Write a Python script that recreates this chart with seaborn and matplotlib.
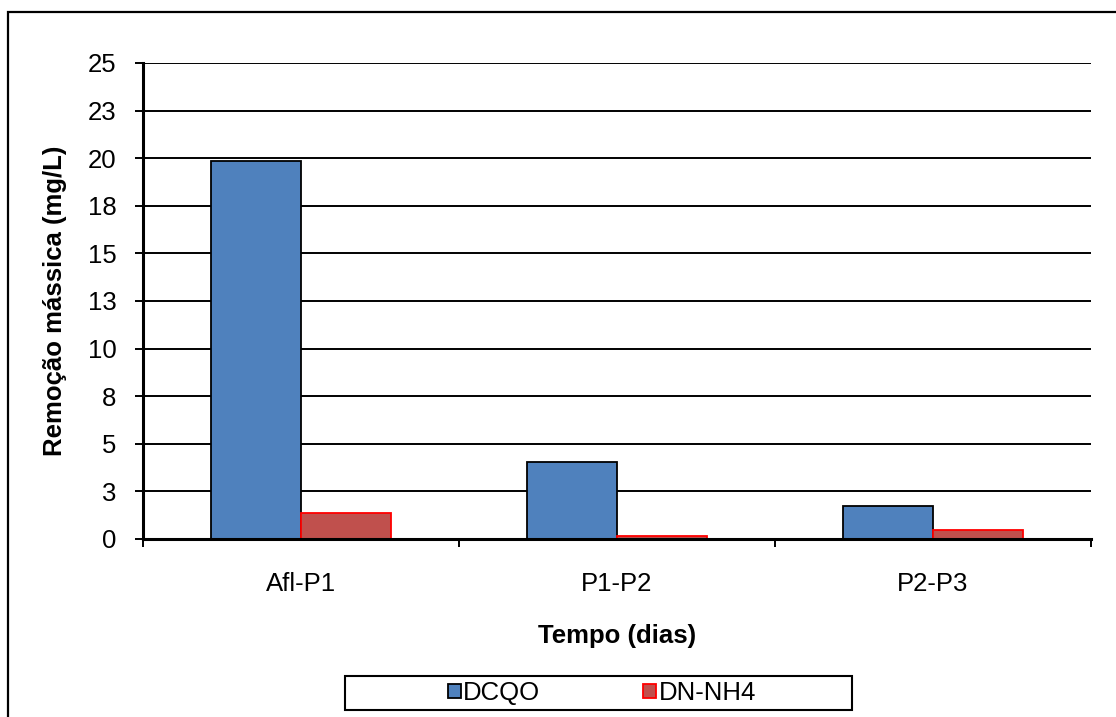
import matplotlib
matplotlib.use("Agg")
import matplotlib.pyplot as plt
import seaborn as sns
import pandas as pd
from matplotlib.patches import Rectangle, Patch
from matplotlib.ticker import FixedLocator

categories = ["Afl-P1", "P1-P2", "P2-P3"]
dcqo = [19.85, 4.06, 1.73]
dn_nh4 = [1.35, 0.14, 0.49]
series_names = ["DCQO", "DN-NH4"]
ytick_values = [0, 2.5, 5, 7.5, 10, 12.5, 15, 17.5, 20, 22.5, 25]
ytick_labels = ["0", "3", "5", "8", "10", "13", "15", "18", "20", "23", "25"]

df = pd.DataFrame({
    "cat": categories * 2,
    "serie": [series_names[0]] * 3 + [series_names[1]] * 3,
    "val": dcqo + dn_nh4,
})

sns.set_theme(style="white")
plt.rcParams["font.family"] = ["Liberation Sans", "DejaVu Sans"]
plt.rcParams["text.color"] = "black"

FS = 18.5

fig = plt.figure(figsize=(11.16, 7.17), dpi=100)
ax = fig.add_axes([143 / 1116, 1 - 539 / 717, (1091 - 143) / 1116, (539 - 63) / 717])

fill = {"DCQO": "#4F81BD", "DN-NH4": "#C0504D"}
edge = {"DCQO": "#000000", "DN-NH4": "#FF0000"}

sns.barplot(data=df, x="cat", y="val", hue="serie", hue_order=series_names,
            order=categories, palette=fill, width=0.57, gap=0, ax=ax,
            legend=False, saturation=1)

for cont, name in zip(ax.containers, series_names):
    for p in cont:
        p.set_edgecolor(edge[name])
        p.set_linewidth(1.3)
        p.set_zorder(3)

ax.set_xlim(-0.5, 2.5)
ax.set_ylim(0, 25)
ax.set_yticks(ytick_values)
ax.set_yticklabels(ytick_labels)
ax.yaxis.grid(True, color="black", linewidth=1.4)
ax.set_axisbelow(True)
for s in ["top", "right"]:
    ax.spines[s].set_visible(False)
for s in ["left", "bottom"]:
    ax.spines[s].set_color("black")
    ax.spines[s].set_linewidth(2.2)
    ax.spines[s].set_zorder(4)

ax.tick_params(axis="y", which="major", direction="out", length=6, width=1.4,
               color="black", left=True, labelsize=FS, pad=13, labelcolor="black")
ax.xaxis.set_minor_locator(FixedLocator([-0.5, 0.5, 1.5, 2.5]))
ax.tick_params(axis="x", which="major", length=0, labelsize=FS, pad=24, labelcolor="black")
ax.tick_params(axis="x", which="minor", direction="out", length=6, width=1.4,
               color="black", bottom=True)
ax.set_xticks(range(len(categories)))
ax.set_xticklabels(categories)

ax.set_xlabel("Tempo (dias)", fontsize=FS, fontweight="bold", labelpad=20, color="black")
ax.set_ylabel("Remoção mássica (mg/L)", fontsize=FS, fontweight="bold", labelpad=15, color="black")

handles = [Patch(facecolor=fill[n], edgecolor=edge[n], linewidth=1.3) for n in series_names]
fig.legend(handles, series_names, loc="center", bbox_to_anchor=(602 / 1116, 1 - 693 / 717),
           ncol=2, frameon=False, fontsize=FS, handlelength=0.5, handleheight=0.5,
           handletextpad=0.1, columnspacing=4.0, labelcolor="black")

# legend frame
fig.patches.append(Rectangle((345 / 1116, 1 - 710 / 717), (852 - 345) / 1116, 34 / 717,
                             transform=fig.transFigure, fill=False, edgecolor="black",
                             linewidth=1.5, zorder=0))
# outer chart frame (runs off the right and bottom edges)
fig.patches.append(Rectangle((8 / 1116, -0.1), 1.2, 1 - 12 / 717 + 0.1,
                             transform=fig.transFigure, fill=False, edgecolor="black",
                             linewidth=1.6, zorder=0))

fig.savefig("out.png", dpi=100, facecolor="white")
